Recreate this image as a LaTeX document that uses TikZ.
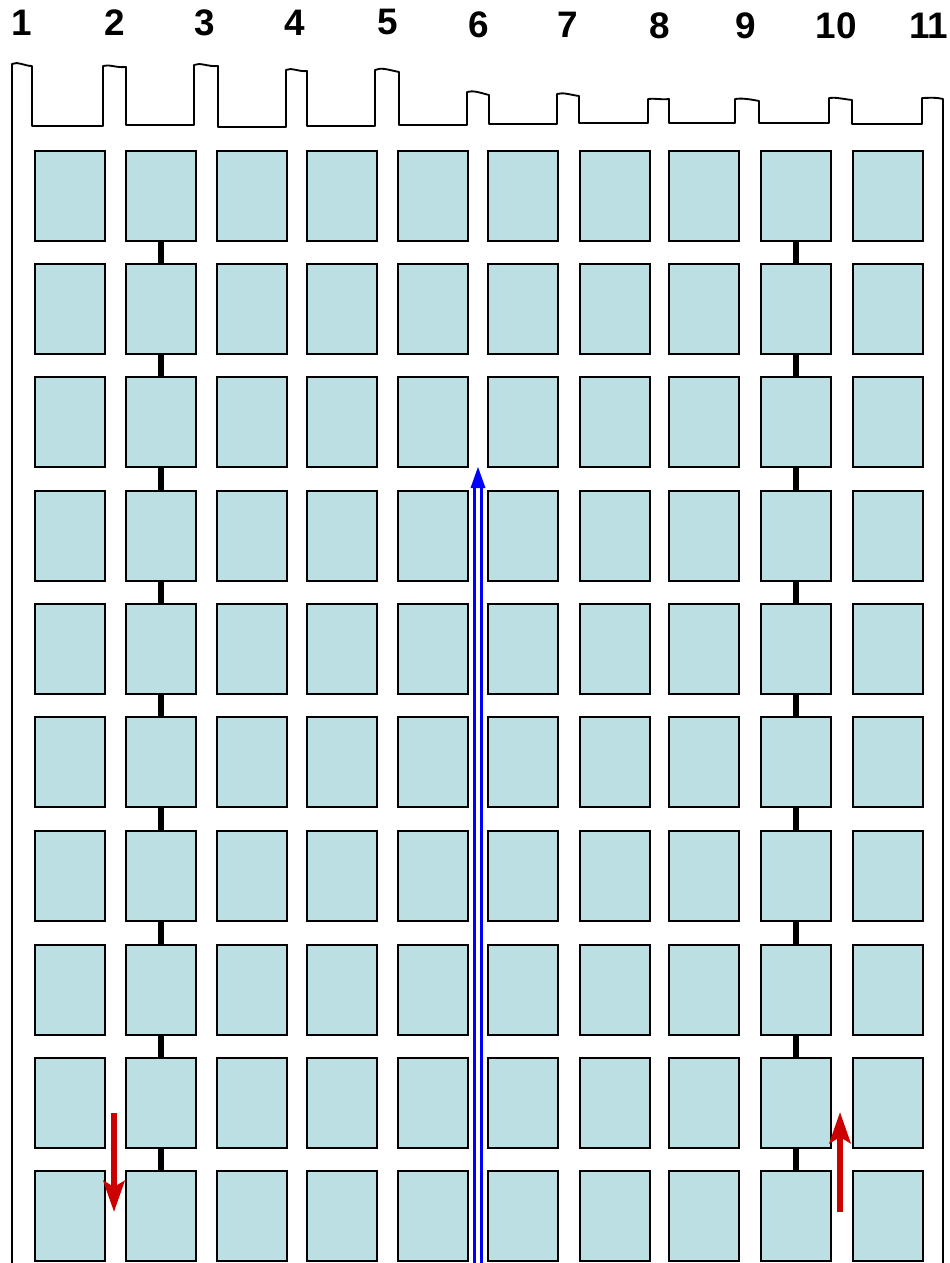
\documentclass[tikz,border=0pt]{standalone}
\usepackage{fontspec}
\setmainfont{Liberation Sans}
\usetikzlibrary{arrows.meta, positioning}
\definecolor{cellfill}{HTML}{BBDFE2}
\definecolor{flowred}{HTML}{CC0000}
\definecolor{riserblue}{HTML}{0000FF}

\begin{document}
\begin{tikzpicture}[
    x=0.02cm, y=-0.02cm,
    cell/.style={draw=black, line width=0.9pt, fill=cellfill,
      minimum width=1.4cm, minimum height=1.8cm, inner sep=0pt,
      anchor=north west},
    shade/.style={fill=black!40},
    tie/.style={line width=0.12cm},
    rim/.style={line width=1.05pt, line join=round},
    colnum/.style={font=\fontsize{21}{21}\selectfont\bfseries},
    flow/.style={flowred, line width=0.12cm,
      -{Stealth[length=0.62cm, width=0.42cm, inset=0.12cm]}},
    riser/.style={riserblue, line width=0.06cm, double=white,
      double distance=0.08cm},
  ]

  % Frame
  \useasboundingbox (0,0) rectangle (949,1263);

  % === Column numbers ===
  \foreach \x/\y/\t in {22/23/1, 115/23/2, 205/23/3, 295/23/4, 388/22/5,
      479/25/6, 568/25/7, 660/26/8, 746/26/9, 836/26/10, 929/26/11}
    \node[colnum] (num\t) at (\x,\y) {\t};

  % === Outer rim with the top teeth ===
  \draw[rim] (12,1263) -- (12,64)
    .. controls (18,61) and (24,66) .. (32,66) -- (32,126) -- (103,126) -- (103,66)
    .. controls (109,64) and (116,68) .. (126,67) -- (126,125) -- (194,125) -- (194,65)
    .. controls (200,62) and (208,67) .. (218,66) -- (218,127) -- (286,127) -- (286,70)
    .. controls (292,67) and (298,72) .. (307,71) -- (307,126) -- (375,126) -- (375,70)
    .. controls (381,67) and (389,70) .. (399,72) -- (399,125) -- (467,125) -- (467,92)
    .. controls (473,90) and (481,93) .. (489,95) -- (489,124) -- (557,124) -- (557,94)
    .. controls (563,92) and (571,95) .. (579,96) -- (579,123) -- (648,123) -- (648,99)
    .. controls (654,98) and (661,100) .. (669,99) -- (669,123) -- (735,123) -- (735,99)
    .. controls (741,98) and (749,99) .. (759,101) -- (759,123) -- (829,123) -- (829,98)
    .. controls (835,97) and (843,99) .. (852,100) -- (852,124) -- (922,124) -- (922,98)
    .. controls (928,98) and (936,97) .. (943,99) -- (943,1263);

  % === Grid of cells ===
  \foreach \y [count=\i] in {150,263,376,490,603,716,830,944,1057,1170}
    \foreach \x [count=\j] in {34,125,216,306,397,487,579,668,760,852} {
      \fill[shade] (\x+1.5,\y+1.5) rectangle ++(70,90);
      \node[cell] (c-\i-\j) at (\x,\y) {};
    }

  % Ties in columns 2 and 9
  \foreach \j in {2,9}
    \foreach \k [remember=\k as \i (initially 1)] in {2,...,10}
      \draw[tie] (c-\i-\j.south) -- (c-\k-\j.north);

  % === Blue riser between columns 5 and 6 ===
  \coordinate (riser-foot) at (478,1263);
  \coordinate (riser-head) at (478,487);
  \coordinate (riser-tip) at (478,467);
  \draw[riser] (riser-foot) -- (riser-head);
  \fill[riserblue] (riser-tip) -- (470.5,488) -- (485.5,488) -- cycle;

  % === Red flow arrows ===
  \coordinate (down-top) at (114,1113);
  \coordinate (down-end) at (114,1212);
  \coordinate (up-foot) at (840,1212);
  \coordinate (up-end) at (840,1112);
  \draw[flow] (down-top) -- (down-end);
  \draw[flow] (up-foot) -- (up-end);

\end{tikzpicture}
\end{document}
